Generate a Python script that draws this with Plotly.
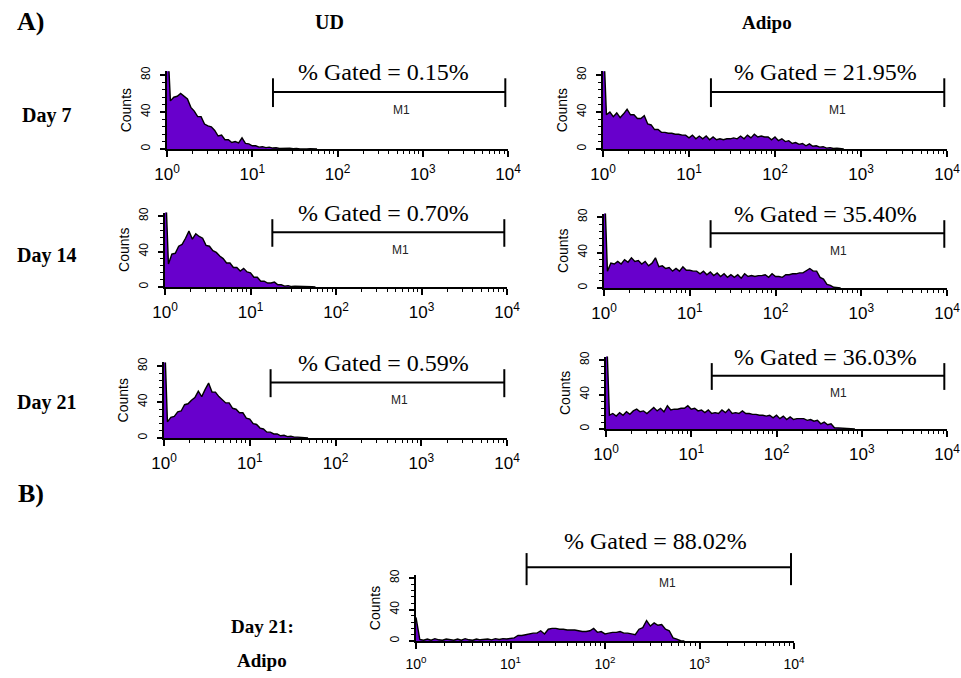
import numpy as np
import plotly.graph_objects as go

W, H = 961, 678
STEP = 0.04  # width of one histogram channel, in decades of fluorescence

# ---- histogram counts per channel (channel k sits at 10**(k*STEP)) ----
UD_D7 = [130, 52, 56, 57, 60, 57, 54, 45, 41, 35, 35, 27, 25, 24, 20, 14, 15, 10, 10, 7,
         8, 6.5, 12, 6, 5.5, 3.5, 3.5, 2, 2.5, 1.5, 2, 1, 1.3, 0.6, 0.8, 0.4, 0.9, 0.2,
         0.6, 0.1, 0.5, 0.1, 0.3, 0.1, 0]
ADIPO_D7 = [130, 37, 40, 35, 39, 34, 38, 43, 37, 37, 33, 33, 36, 27, 26, 21, 21, 18, 18,
            17, 17, 16, 16, 15, 15, 12, 15, 11, 14, 11, 14, 10, 13, 10, 11, 10, 11, 11,
            12, 11, 14, 11, 15, 12, 16, 13, 14, 13, 13, 10, 13, 9, 11, 8, 9, 6, 7, 5, 6,
            3.5, 5.5, 3, 3.5, 2, 2.5, 1, 1.5, 0.5, 0.8, 0.2, 0]
UD_D14 = [130, 26, 37, 38, 46, 48, 55, 63, 54, 60, 57, 55, 47, 46, 41, 39, 35, 32, 27,
          27, 22, 22, 18, 21, 17, 16, 11, 11, 6.5, 6.5, 4.5, 4.5, 5.5, 2.5, 2.5, 1, 1.5,
          0.5, 0.9, 0.6, 0.5, 0.3, 0.3, 0.2, 0]
ADIPO_D14 = [130, 19, 28, 27, 30, 27, 32, 29, 34, 30, 31, 27, 30, 25, 28, 34, 24, 25, 22,
             23, 19, 22, 19, 24, 20, 20, 19, 19, 16, 19, 15, 18, 14, 17, 13, 16, 12, 15,
             12, 15, 11, 16, 13, 14, 13, 14, 14, 15, 12, 16, 13, 13, 12, 15, 15, 16, 16,
             17, 17, 20, 22, 19, 19, 12, 10, 4, 3, 0.8, 0.5, 0]
UD_D21 = [130, 18, 23, 24, 29, 30, 37, 38, 42, 45, 52, 46, 54, 61, 51, 51, 46, 43, 39,
          39, 33, 32, 28, 28, 22, 21, 16, 15, 11, 10, 6.5, 6.5, 4.5, 4.5, 2.5, 3, 1.5,
          2, 1, 1, 0.4, 0.4, 0]
ADIPO_D21 = [130, 16, 18, 15, 19, 16, 20, 17, 21, 23, 20, 21, 18, 22, 25, 21, 24, 20, 27,
             22, 23, 23, 24, 24, 27, 23, 24, 21, 22, 19, 22, 18, 19, 18, 22, 19, 23, 18,
             19, 18, 21, 18, 18, 17, 17, 16, 16, 15, 16, 13, 16, 12, 15, 11, 14, 11, 12,
             12, 12, 10, 11, 9, 10, 6, 8, 5, 6, 1.5, 1.2, 0.7, 0.8, 0.5, 0.3, 0]
ADIPO_D21_B = [30, 2, 1, 2.5, 1, 3, 1.5, 1, 2.5, 2, 1, 2.5, 1, 3, 1.5, 1, 2.5, 1.5, 2,
               2.5, 1.5, 3, 2, 3, 2.5, 3.5, 4, 7, 7, 8, 9, 10, 10, 13, 9, 15, 16, 16, 15,
               15, 14, 14, 14, 13, 12, 12, 13, 16, 11, 12, 9, 10, 11, 11, 12, 10, 10, 9,
               8, 15, 17, 26, 19, 23, 20, 21, 15, 13, 4, 2.5, 0.3, 0]

HISTS = [UD_D7, ADIPO_D7, UD_D14, ADIPO_D14, UD_D21, ADIPO_D21, ADIPO_D21_B]
GATED = ["0.15%", "21.95%", "0.70%", "35.40%", "0.59%", "36.03%", "88.02%"]
GATE_LOW = [17.5, 18, 18, 17.5, 17.5, 17.4, 14.8]
GATE_HIGH = 9300
X_TICKS = [1, 10, 100, 1000, 10000]
X_TICKTEXT = ["10<sup>0</sup>", "10<sup>1</sup>", "10<sup>2</sup>", "10<sup>3</sup>", "10<sup>4</sup>"]
X_MINOR = [m * 10 ** e for e in range(4) for m in range(2, 10)]
Y_TICKS = [0, 40, 80]
Y_MAX = 84

# ---- layout (pixels): left, right, bottom(0 count), top ----
PANEL_PX = [
    (167, 508, 149, 71.3),
    (603, 947, 149, 71.3),
    (165, 507, 287, 212.5),
    (604, 947, 288, 213.5),
    (164, 507, 438, 362.4),
    (606, 947, 429, 356.6),
    (416, 794, 641, 574.9),
]
# gate geometry in y-domain fractions: horizontal bar, bar ends (low, high), text y, M1 y
GATE_Y = [(0.735, 0.54, 0.91, 0.99, 0.50)] * 6 + [(1.115, 0.845, 1.33, 1.52, 0.88)]
TEXT_X = [2.54, 2.59, 2.56, 2.585, 2.565, 2.57, 2.53]
M1_X = [2.75, 2.73, 2.75, 2.73, 2.75, 2.73, 2.66]

PURPLE = "rgb(104,0,204)"
SANS = "Liberation Sans, Arial, sans-serif"
SERIF = "Liberation Serif, Times New Roman, serif"

fig = go.Figure()
shapes = []
annotations = []

for k, counts in enumerate(HISTS):
    n = "" if k == 0 else str(k + 1)
    xa, ya = "x" + n, "y" + n
    x = 10 ** (np.arange(len(counts)) * STEP)
    fig.add_trace(go.Scatter(
        x=x, y=counts, mode="lines", xaxis=xa, yaxis=ya,
        line=dict(color="black", width=1.4), fill="tozeroy", fillcolor=PURPLE,
        showlegend=False, hoverinfo="skip"))

    left, right, bot, top = PANEL_PX[k]
    small = (k == 6)
    fig.update_layout(**{
        "xaxis" + n: dict(
            domain=[left / W, right / W], anchor=ya, type="log", range=[0, 4],
            showline=True, linecolor="black", linewidth=1.5,
            ticks="outside", ticklen=6, tickwidth=1.5, tickcolor="black",
            tickvals=X_TICKS, ticktext=X_TICKTEXT, ticklabelstandoff=3,
            tickfont=dict(family=SANS, size=14 if small else 17, color="black"),
            minor=dict(tickvals=X_MINOR, ticks="outside", ticklen=3, tickwidth=1,
                       tickcolor="black"),
            showgrid=False, zeroline=False, automargin=False),
        "yaxis" + n: dict(
            domain=[1 - bot / H, 1 - top / H], anchor=xa, range=[0, Y_MAX],
            showline=True, linecolor="black", linewidth=2,
            ticks="outside", ticklen=5, tickwidth=1.5, tickcolor="black",
            tickvals=Y_TICKS, tickangle=-90, ticklabelstandoff=5,
            tickfont=dict(family=SANS, size=12, color="black"),
            minor=dict(dtick=8, ticks="outside", ticklen=3, tickwidth=1,
                       tickcolor="black"),
            title=dict(text="Counts", font=dict(family=SANS, size=14, color="black"),
                       standoff=4),
            showgrid=False, zeroline=False, automargin=False),
    })

    hy, vlo, vhi, ty, my = GATE_Y[k]
    lo = GATE_LOW[k]
    shapes.append(dict(type="line", xref=xa, yref=ya + " domain", x0=lo, x1=GATE_HIGH,
                       y0=hy, y1=hy, line=dict(color="black", width=2)))
    for gx in (lo, GATE_HIGH):
        shapes.append(dict(type="line", xref=xa, yref=ya + " domain", x0=gx, x1=gx,
                           y0=vlo, y1=vhi, line=dict(color="black", width=2)))
    annotations.append(dict(xref=xa, yref=ya + " domain", x=TEXT_X[k], y=ty,
                            text="% Gated = " + GATED[k], showarrow=False,
                            font=dict(family=SERIF, size=24, color="black"),
                            xanchor="center", yanchor="middle"))
    annotations.append(dict(xref=xa, yref=ya + " domain", x=M1_X[k], y=my, text="M1",
                            showarrow=False, font=dict(family=SANS, size=12, color="#222"),
                            xanchor="center", yanchor="middle"))

LABELS = [
    ("A)", 30, 21, 26), ("UD", 329, 22, 20), ("Adipo", 767, 22, 19),
    ("Day 7", 46, 116, 20), ("Day 14", 46, 255, 20), ("Day 21", 46, 402, 20),
    ("B)", 31, 493, 26), ("Day 21:", 262, 626, 19), ("Adipo", 262, 660, 19),
]
for txt, px, py, sz in LABELS:
    annotations.append(dict(xref="paper", yref="paper", x=px / W, y=1 - py / H,
                            text="<b>" + txt + "</b>", showarrow=False,
                            font=dict(family=SERIF, size=sz, color="black"),
                            xanchor="center", yanchor="middle"))

fig.update_layout(width=W, height=H, margin=dict(l=0, r=0, t=0, b=0),
                  paper_bgcolor="white", plot_bgcolor="white",
                  shapes=shapes, annotations=annotations, showlegend=False)

fig.write_html("out.html")
